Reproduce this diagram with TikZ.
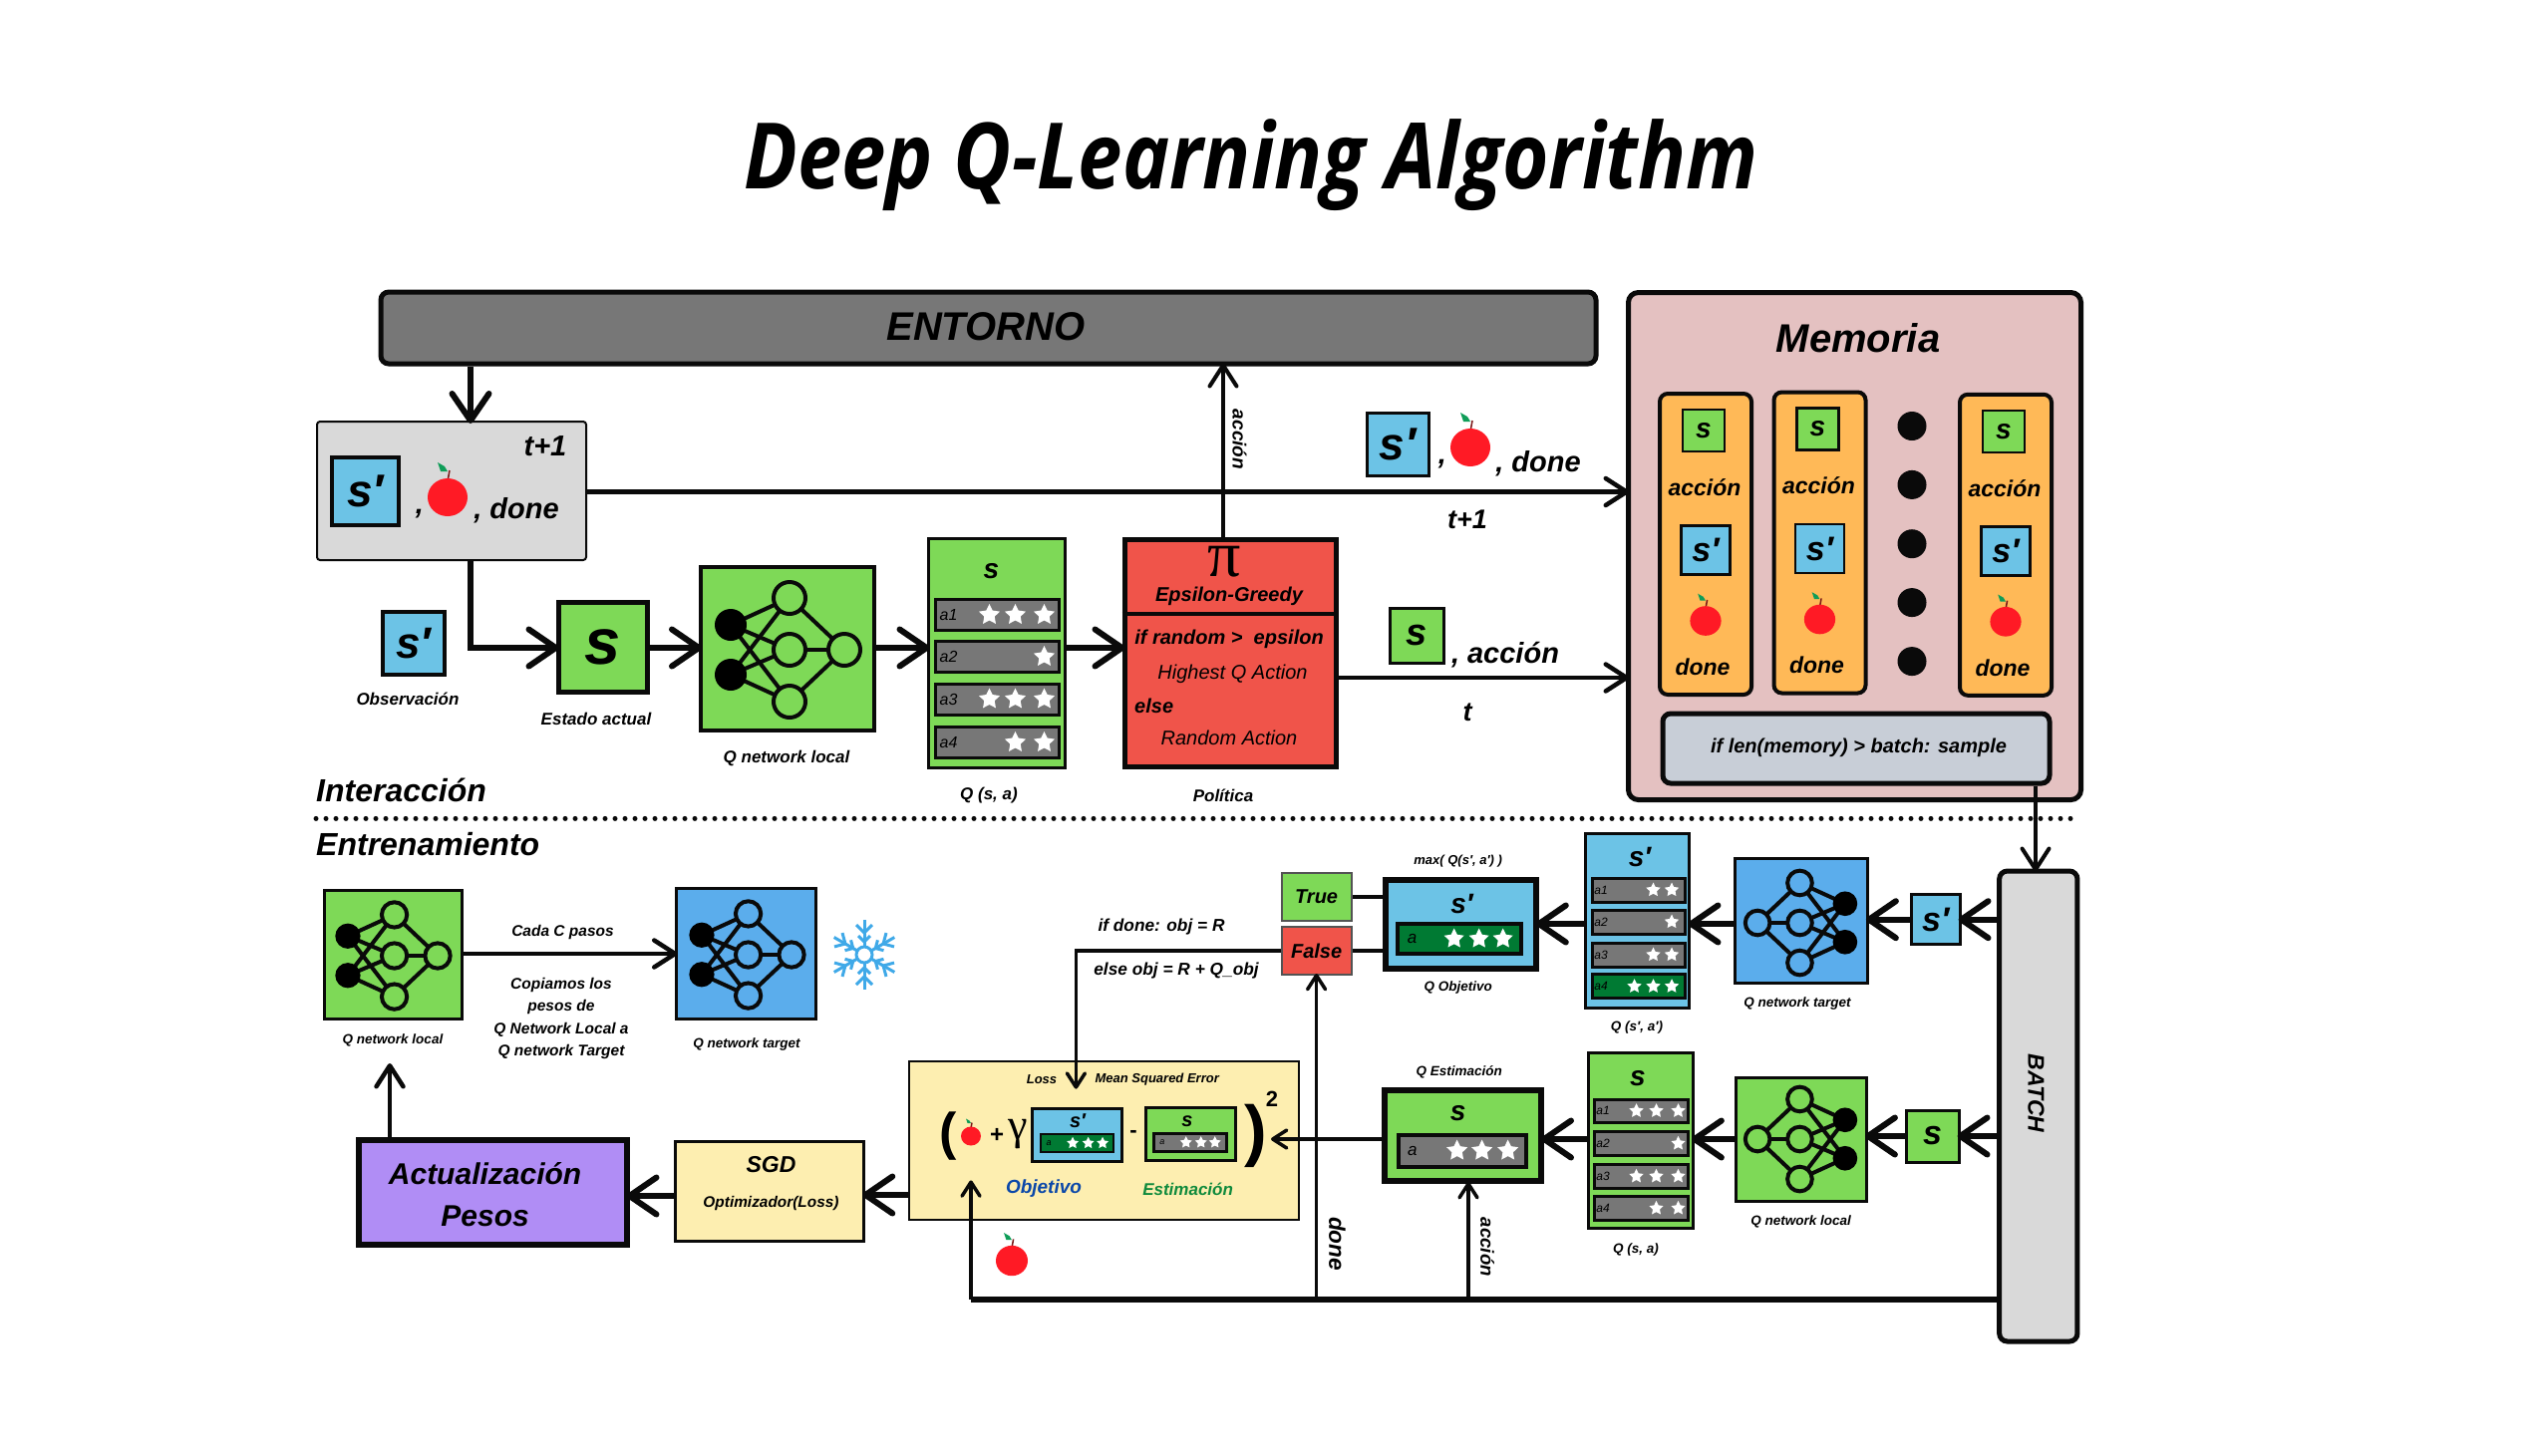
\documentclass[tikz,border=0pt]{standalone}
\usepackage{fontspec}
\setmainfont{Liberation Sans}
\newfontfamily\titlefont[FakeStretch=0.865]{Open Sans}
\newfontfamily\greekfont{Liberation Serif}
\usetikzlibrary{arrows.meta,shapes.geometric}

\definecolor{ink}{HTML}{0A0A0A}
\definecolor{sgreen}{HTML}{7ED957}
\definecolor{sblue}{HTML}{6CC3E6}
\definecolor{netblue}{HTML}{5BADEC}
\definecolor{entgray}{HTML}{777777}
\definecolor{lightgray}{HTML}{D9D9D9}
\definecolor{rowgray}{HTML}{777777}
\definecolor{rowgreen}{HTML}{007A33}
\definecolor{polred}{HTML}{F0544A}
\definecolor{mempink}{HTML}{E4C1C1}
\definecolor{colorange}{HTML}{FFB957}
\definecolor{slate}{HTML}{C8CED7}
\definecolor{cream}{HTML}{FDEEB0}
\definecolor{violet}{HTML}{B08DF5}
\definecolor{applered}{HTML}{FF1A25}
\definecolor{appleleaf}{HTML}{0F9D58}
\definecolor{applestem}{HTML}{7A1616}
\definecolor{flakeblue}{HTML}{3FA9E8}
\definecolor{objblue}{HTML}{0A47A9}
\definecolor{estgreen}{HTML}{0F8A3C}

\newcommand{\fs}[1]{\fontsize{#1}{#1}\selectfont}

\tikzset{
  bi/.style = {inner sep = 0pt, font = \fs{#1}\bfseries\itshape},
  ri/.style = {inner sep = 0pt, font = \fs{#1}\itshape},
  boxsize/.style 2 args = {minimum width = #1pt, minimum height = #2pt},
  flatbox/.style = {draw = ink, inner sep = 0pt},
  greenbox/.style = {flatbox, fill = sgreen},
  bluebox/.style = {flatbox, fill = sblue},
  starmark/.style = {star, star points = 5, star point ratio = 2, fill = white, inner sep = 0pt},
  bigArrow/.style = {draw = ink, line width = 6pt, shorten > = -3pt, -{Straight Barb[round, length = 27pt, width = 37pt]}},
  midArrow/.style = {draw = ink, line width = 4.5pt, shorten > = -3pt, -{Straight Barb[round, length = 21pt, width = 27pt]}},
  thinArrow/.style = {draw = ink, line width = 3.5pt, shorten > = -2pt, -{Straight Barb[round, length = 14pt, width = 18pt]}},
  netline/.style = {draw = ink, line width = 4pt},
  flakeline/.style = {draw = flakeblue, line width = 3pt},
  pics/nnet/.style = {code = {
    \foreach \a in {-25,25} \foreach \b in {-52,0,52} \draw[netline] (-57,\a) -- (2,\b);
    \foreach \b in {-52,0,52} \draw[netline] (2,\b) -- (57,0);
    \foreach \b in {-52,0,52} \draw[netline, fill = #1] (2,\b) circle (16);
    \draw[netline, fill = #1] (57,0) circle (16);
    \foreach \a in {-25,25} \fill[black] (-57,\a) circle (16);
  }},
  pics/apple/.style = {code = {
    \draw[applestem, line width = 1.5pt] (0,-16) -- (2,-27);
    \fill[appleleaf] (-10,-35) -- (-3,-31) -- (0,-26) -- (-7,-26) -- cycle;
    \fill[applered] (0,0) ellipse [x radius = 20, y radius = 19];
  }},
  pics/flake/.style = {code = {
    \foreach \r in {0,60,...,300} {
      \begin{scope}[rotate = \r]
        \draw[flakeline] (0,-8) -- (0,-35);
        \draw[flakeline] (-8,-30) -- (0,-22) -- (8,-30);
        \draw[flakeline] (-6,-19) -- (0,-13) -- (6,-19);
      \end{scope}
    }
    \draw[flakeline] (0,0) circle (8);
  }}
}

\newcommand{\setrow}[6]{\def\rowW{#1}\def\rowH{#2}\def\rowLw{#3}\def\rowLx{#4}\def\rowFs{#5}\def\rowStar{#6}}
\newcommand{\qrow}[5][rowgray]{
  \node[flatbox, fill = #1, line width = \rowLw pt, boxsize = {\rowW}{\rowH}] (#2) at (#3) {};
  \node[ri = \rowFs] (#2 label) at ([xshift = \rowLx pt]#2.west) {#4};
  \foreach \sx in {#5} \node[starmark, minimum size = \rowStar pt] (#2 star \sx) at ([xshift = \sx pt]#2.east) {};
}
\newcommand{\memcol}[3]{
  \begin{scope}[shift = {(#2,#3)}]
    \node[flatbox, fill = colorange, line width = 4pt, rounded corners = 8pt, boxsize = {92}{302}] (#1) at (0,0) {};
    \node[greenbox, line width = 2.5pt, boxsize = {42}{42}, bi = 28] (#1 s) at (-2,-114) {s};
    \node[bi = 23] (#1 accion) at (-1,-57) {acción};
    \node[bluebox, line width = 2.5pt, boxsize = {49}{49}, bi = 34] (#1 sp) at (0,6) {s′};
    \pic[scale = .78] at (0,77) {apple};
    \node[bi = 23] (#1 done) at (-3,123) {done};
  \end{scope}
}

\begin{document}
\begin{tikzpicture}[x = 1pt, y = -1pt, every node/.style = {align = center}]
  \path[use as bounding box, fill = white] (0,0) rectangle (2544,1460);

  \node[inner sep = 0pt, font = \titlefont\bfseries\itshape\fs{92}] (title) at (1255,166) {Deep Q-Learning Algorithm};

  \coordinate (obsX) at (472,0);
  \coordinate (actX) at (1227,0);
  \coordinate (batchX) at (2042,0);
  \coordinate (rowA) at (0,650);
  \coordinate (rowObs) at (0,493.5);
  \coordinate (rowAct) at (0,680);
  \coordinate (rowB) at (0,927);
  \coordinate (rowC) at (0,1143);

  \node[flatbox, fill = entgray, line width = 5pt, rounded corners = 8pt, boxsize = {1219}{72}] (entorno) at (991.5,329) {};
  \node[bi = 40] (entornoText) at (989,328) {ENTORNO};

  \node[flatbox, fill = lightgray, line width = 2pt, rounded corners = 3pt, boxsize = {270}{139}] (grayBox) at (453,492.5) {};
  \node[bi = 29] (grayT) at (547,448) {t+1};
  \node[bluebox, line width = 4pt, boxsize = {67}{68}, bi = 46] (graySp) at (366.5,493) {s′};
  \node[bi = 29] (grayComma) at (421,516) {,};
  \pic at (449,499) {apple};
  \node[bi = 29] (grayDone) at (518,512) {, done};

  \node[bluebox, line width = 3.5pt, boxsize = {62}{63}, bi = 44] (obsSp) at (415,645.5) {s′};
  \node[bi = 17] (obsText) at (409,701) {Observación};
  \node[greenbox, line width = 5pt, boxsize = {89}{90}, bi = 65] (estado) at (604.5,649) {s};
  \node[bi = 17] (estadoText) at (598,721) {Estado actual};

  \node[greenbox, line width = 4pt, boxsize = {174}{164}] (netA) at (790,651) {};
  \pic at (790,652) {nnet = sgreen};
  \node[bi = 17] (netAText) at (789,761) {Q network local};

  \node[greenbox, line width = 3pt, boxsize = {137}{230}] (tableA) at (999.5,655) {};
  \node[bi = 28] (tableAs) at (994.5,573) {s};
  \setrow{124}{31}{3}{15}{16}{22}
  \qrow{rowA1}{1000,617}{a1}{-71,-45,-16}
  \qrow{rowA2}{1000,659}{a2}{-16}
  \qrow{rowA3}{1000,701.5}{a3}{-71,-45,-16}
  \qrow{rowA4}{1000,745}{a4}{-45,-16}
  \node[bi = 17] (tableAText) at (992,798.5) {Q (s, a)};

  \node[flatbox, fill = polred, line width = 5pt, boxsize = {212}{228}] (policy) at (1234,655) {};
  \draw[ink, line width = 4pt] (policy.west |- 0,616) -- (policy.east |- 0,616);
  \node[inner sep = 0pt, font = \greekfont\fs{66}] (policyPi) at (1228,564) {π};
  \node[bi = 20] (policyName) at (1233,598.5) {Epsilon-Greedy};
  \node[bi = 20] (policyIf) at (1233,641.5) {if random >\ \ epsilon};
  \node[ri = 20] (policyHigh) at (1236.5,676.5) {Highest Q Action};
  \node[bi = 20, anchor = west] (policyElse) at (1138,708.5) {else};
  \node[ri = 20] (policyRand) at (1233,740.7) {Random Action};
  \node[bi = 17] (policyText) at (1227,798) {Política};

  \node[bluebox, line width = 3pt, boxsize = {62}{63}, bi = 46] (topSp) at (1402,446) {s′};
  \node[bi = 29] (topComma) at (1447,466) {,};
  \pic at (1475,449) {apple};
  \node[bi = 29] (topDone) at (1543,465) {, done};
  \node[bi = 27] (topT) at (1472,521) {t+1};
  \node[greenbox, line width = 3pt, boxsize = {54}{55}, bi = 38] (lowS) at (1421,637.5) {s};
  \node[bi = 29] (lowAccion) at (1510,657) {, acción};
  \node[bi = 27] (lowT) at (1472,715) {t};

  \node[flatbox, fill = mempink, line width = 5pt, rounded corners = 10pt, boxsize = {454}{509}] (memory) at (1860.5,548) {};
  \node[bi = 40] (memoryName) at (1864,339) {Memoria};
  \memcol{colA}{1711}{546}
  \memcol{colB}{1825.5}{544.5}
  \memcol{colC}{2012}{546.8}
  \foreach \i/\y in {1/427.5,2/486.4,3/545.7,4/604.6,5/663.6}
    \node[circle, fill = ink, inner sep = 0pt, minimum size = 29pt] (dot\i) at (1918,\y) {};
  \node[flatbox, fill = slate, line width = 5pt, rounded corners = 8pt, boxsize = {388}{70}] (sampleBox) at (1862,751) {};
  \node[bi = 20] (sampleText) at (1864.5,750) {if len(memory) > batch: sample};

  \node[bi = 32, anchor = west] (interText) at (317,793) {Interacción};
  \node[bi = 32, anchor = west] (trainText) at (317,847) {Entrenamiento};
  \draw[ink, line width = 5pt, line cap = round, dash pattern = on 0pt off 10pt] (interText.west |- 0,821.4) -- (2082,821.4);

  \node[greenbox, line width = 3pt, boxsize = {138}{129}] (netLocal) at (394,958) {};
  \pic[scale = .79] at (394,959) {nnet = sgreen};
  \node[bi = 13.5] (netLocalText) at (394,1044) {Q network local};
  \node[flatbox, fill = netblue, line width = 3pt, boxsize = {140}{131}] (netTarget) at (748,957) {};
  \pic[scale = .79] at (749,958) {nnet = netblue};
  \node[bi = 13.5] (netTargetText) at (749,1048) {Q network target};
  \pic at (867,958) {flake};
  \node[bi = 15.5] (copyA) at (564.5,935) {Cada C pasos};
  \node[bi = 15.5] (copyB) at (563,988.6) {Copiamos los};
  \node[bi = 15.5] (copyC) at (563,1010.7) {pesos de};
  \node[bi = 15.5] (copyD) at (563,1033) {Q Network Local a};
  \node[bi = 15.5] (copyE) at (563,1055.7) {Q network Target};

  \node[flatbox, fill = violet, line width = 6pt, boxsize = {269}{105}] (actBox) at (494,1196.5) {};
  \node[bi = 30] (actA) at (486.6,1178) {Actualización};
  \node[bi = 30] (actB) at (486.6,1220) {Pesos};
  \node[flatbox, fill = cream, line width = 3.5pt, boxsize = {189}{100}] (sgdBox) at (772,1195.5) {};
  \node[bi = 23] (sgdA) at (773.5,1169) {SGD};
  \node[bi = 15.4] (sgdB) at (773.5,1208) {Optimizador(Loss)};

  \node[flatbox, fill = cream, line width = 2.5pt, boxsize = {391}{159}] (lossBox) at (1107.5,1144.5) {};
  \node[bi = 13] (lossA) at (1045,1083) {Loss};
  \node[bi = 13] (lossB) at (1160.7,1083) {Mean Squared Error};
  \node[inner sep = 0pt, font = \fs{52}\bfseries] (parenL) at (951,1140) {(};
  \node[inner sep = 0pt, font = \fs{68}\bfseries] (parenR) at (1260,1140) {)};
  \node[inner sep = 0pt, font = \fs{22}\bfseries] (lossTwo) at (1276,1103) {2};
  \pic[scale = .5] at (974,1140) {apple};
  \node[inner sep = 0pt, font = \fs{24}\bfseries] (lossPlus) at (1000,1139) {+};
  \node[inner sep = 0pt, font = \greekfont\fs{44}] (lossGamma) at (1021,1138) {γ};
  \node[bluebox, line width = 3pt, boxsize = {90}{53}] (lossObj) at (1080,1138.5) {};
  \node[bi = 20] (lossObjS) at (1081,1125) {s′};
  \setrow{73}{18}{2.5}{9.5}{9}{12.5}
  \qrow[rowgreen]{rowObjSmall}{1080.3,1147}{a}{-42,-26.4,-12}
  \node[inner sep = 0pt, font = \fs{22}\bfseries] (lossMinus) at (1137,1138) {-};
  \node[greenbox, line width = 3pt, boxsize = {90}{53}] (lossEst) at (1194,1137.7) {};
  \node[bi = 20] (lossEstS) at (1191,1125.7) {s};
  \qrow{rowEstSmall}{1194,1146.4}{a}{-42,-27,-13}
  \node[bi = 19, text = objblue] (objText) at (1047,1193) {Objetivo};
  \node[bi = 17, text = estgreen] (estText) at (1191.6,1193) {Estimación};
  \pic[scale = .8] at (1015,1265) {apple};

  \node[bi = 17.3] (ifA) at (1165,930) {if done: obj = R};
  \node[bi = 17.3] (ifB) at (1180,974) {else obj = R + Q\_obj};
  \node[greenbox, draw = ink!70, line width = 2pt, boxsize = {70}{48}, bi = 20] (trueBox) at (1320.6,899.6) {True};
  \node[flatbox, draw = ink!70, fill = polred, line width = 2pt, boxsize = {70}{48}, bi = 20] (falseBox) at (1320.6,954) {False};

  \node[bluebox, line width = 6pt, boxsize = {151}{89}] (qObj) at (1465.3,927.7) {};
  \node[bi = 28] (qObjS) at (1466.5,907) {s′};
  \setrow{124}{30}{4}{17}{17}{21}
  \qrow[rowgreen]{rowObj}{1463.7,942}{a}{-69,-44,-20}
  \node[bi = 13] (qObjTop) at (1462.7,864.6) {max( Q(s′, a′) )};
  \node[bi = 13.5] (qObjText) at (1462.7,990.7) {Q Objetivo};

  \node[bluebox, line width = 3pt, boxsize = {104.5}{174.6}] (tableB) at (1642.7,923.7) {};
  \node[bi = 28] (tableBs) at (1645,860) {s′};
  \setrow{93}{24}{3}{10.5}{12}{15}
  \qrow{rowB1}{1643.5,893}{a1}{-33,-14.5}
  \qrow{rowB2}{1643.5,925}{a2}{-14.5}
  \qrow{rowB3}{1643.5,958}{a3}{-33,-14.5}
  \qrow[rowgreen]{rowB4}{1643.5,989.7}{a4}{-52,-33,-14.5}
  \node[bi = 13.5] (tableBText) at (1642,1030.7) {Q (s′, a′)};

  \node[flatbox, fill = netblue, line width = 3pt, boxsize = {132.7}{124.6}] (netB) at (1807,923.7) {};
  \pic[xscale = -.77, yscale = .77] at (1807,926) {nnet = netblue};
  \node[bi = 13.5] (netBText) at (1803,1006.8) {Q network target};
  \node[bluebox, line width = 3pt, boxsize = {48.6}{49.5}, bi = 34] (batchSp) at (1941.7,922.7) {s′};

  \node[greenbox, line width = 6pt, boxsize = {157}{91.5}] (qEst) at (1467.5,1139.3) {};
  \node[bi = 28] (qEstS) at (1462.7,1117.5) {s};
  \setrow{127.7}{32}{4}{16}{17}{22}
  \qrow{rowEst}{1466.8,1154.6}{a}{-71,-46,-20}
  \node[bi = 13.5] (qEstText) at (1463.8,1075.7) {Q Estimación};

  \node[greenbox, line width = 3pt, boxsize = {104.7}{175.6}] (tableC) at (1646,1144.2) {};
  \node[bi = 28] (tableCs) at (1643,1082) {s};
  \setrow{94.6}{23.4}{3}{10.5}{12}{15}
  \qrow{rowC1}{1646.3,1114.7}{a1}{-53.6,-33.6,-11.6}
  \qrow{rowC2}{1646.3,1147.4}{a2}{-11.6}
  \qrow{rowC3}{1646.3,1180.3}{a3}{-53.6,-33.6,-11.6}
  \qrow{rowC4}{1646.3,1212.4}{a4}{-33.6,-11.6}
  \node[bi = 13.5] (tableCText) at (1641,1254) {Q (s, a)};

  \node[greenbox, line width = 3pt, boxsize = {131.4}{123.2}] (netC) at (1806.7,1143.4) {};
  \pic[xscale = -.77, yscale = .77] at (1807,1143) {nnet = sgreen};
  \node[bi = 13.5] (netCText) at (1806.6,1225.7) {Q network local};
  \node[greenbox, line width = 3pt, boxsize = {53}{52}, bi = 34] (batchS) at (1938.5,1140) {s};

  \node[flatbox, fill = lightgray, line width = 5pt, rounded corners = 8pt, boxsize = {78.3}{472}] (batch) at (2044.8,1110) {};
  \node[bi = 23, rotate = -90] (batchText) at (2042.5,1097) {BATCH};

  \node[bi = 19, rotate = -90] (accionA) at (1243.5,441) {acción};
  \node[bi = 22.6, rotate = -90] (doneB) at (1341.4,1248) {done};
  \node[bi = 18.6, rotate = -90] (accionB) at (1492,1251.4) {acción};

  \draw[bigArrow] (entorno.south -| obsX) -- (grayBox.north -| obsX);
  \draw[bigArrow] (grayBox.south -| obsX) |- (estado.west |- rowA);
  \draw[bigArrow] (estado.east |- rowA) -- (netA.west |- rowA);
  \draw[bigArrow] (netA.east |- rowA) -- (tableA.west |- rowA);
  \draw[bigArrow] (tableA.east |- rowA) -- (policy.west |- rowA);
  \draw[midArrow] (grayBox.east |- rowObs) -- (memory.west |- rowObs);
  \draw[midArrow] (policy.east |- rowAct) -- (memory.west |- rowAct);
  \draw[midArrow, line width = 4pt] (policy.north -| actX) -- (entorno.south -| actX);
  \draw[midArrow, line width = 4pt] (sampleBox.south -| batchX) -- (batch.north -| batchX);

  \draw[midArrow] (netLocal.east |- netTarget.west) -- (netTarget.west);
  \coordinate (upEnd) at (391,1070);
  \draw[midArrow] (actBox.north -| upEnd) -- (upEnd);
  \draw[bigArrow] (sgdBox.west |- 0,1200) -- (actBox.east |- 0,1200);
  \draw[bigArrow] (lossBox.west |- 0,1199) -- (sgdBox.east |- 0,1199);

  \draw[bigArrow] (batch.west |- batchSp) -- (batchSp.east);
  \draw[bigArrow] (batchSp.west) -- (netB.east |- batchSp);
  \draw[bigArrow] (netB.west |- rowB) -- (tableB.east |- rowB);
  \draw[bigArrow] (tableB.west |- rowB) -- (qObj.east |- rowB);
  \draw[bigArrow] (batch.west |- batchS) -- (batchS.east);
  \draw[bigArrow] (batchS.west) -- (netC.east |- batchS);
  \draw[bigArrow] (netC.west |- rowC) -- (tableC.east |- rowC);
  \draw[bigArrow] (tableC.west |- rowC) -- (qEst.east |- rowC);

  \draw[netline] (qObj.west |- trueBox) -- (trueBox.east);
  \draw[netline] (qObj.west |- falseBox) -- (falseBox.east);
  \coordinate (lossIn) at (1079.4,1090.7);
  \draw[thinArrow] (falseBox.west) -| (lossIn);
  \coordinate (lossEast) at (1277,1143);
  \draw[thinArrow] (qEst.west |- lossEast) -- (lossEast);

  \coordinate (busL) at (974,1304);
  \coordinate (busA) at (1473,1304);
  \coordinate (lossUp) at (974,1186.4);
  \draw[ink, line width = 5.5pt] (batch.west |- busL) -- (busL);
  \draw[thinArrow] (busL) -- (lossUp);
  \draw[thinArrow] (falseBox.south |- busL) -- (falseBox.south);
  \draw[thinArrow] (busA) -- (busA |- qEst.south);
\end{tikzpicture}
\end{document}
